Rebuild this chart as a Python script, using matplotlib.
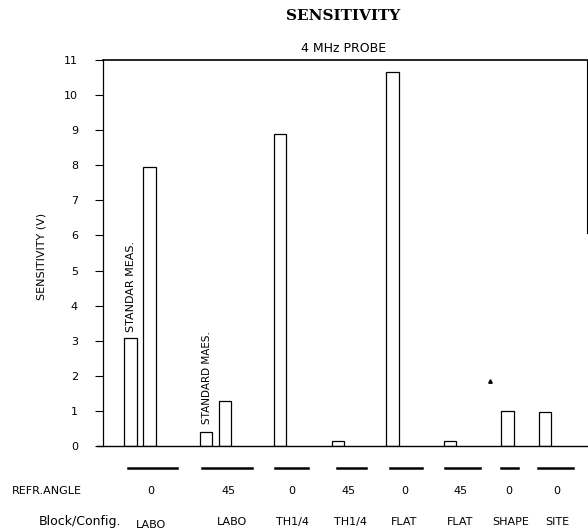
import numpy as np
import matplotlib.pyplot as plt
from matplotlib.transforms import blended_transform_factory

# data
configs = ['LABO', 'LABO', 'TH1/4', 'TH1/4', 'FLAT', 'FLAT', 'SHAPE', 'SITE']
angles = ['0', '45', '0', '45', '0', '45', '0', '0']
# sensitivity in V, one list per configuration (LABO has two measurements)
sens = [[3.07, 7.95], [0.40, 1.28], [8.90], [0.13], [10.65], [0.15], [1.00], [0.96]]

# layout (x in pixel-like units of the original sheet)
bar_x = [[130.5, 149.5], [206, 225], [280], [338], [392.5], [450], [507.5], [545]]
angle_x = [151, 229, 292, 348, 405, 460, 509, 557]
config_x = [151, 232, 293, 350, 404, 460, 511, 557]
underline = [(128, 177), (202, 252), (275, 308), (337, 366), (390, 422), (445, 480), (501, 518), (538, 573)]
bar_w = 12.5

W, H = 588, 529
fig = plt.figure(figsize=(W / 100, H / 100), dpi=100)
ax = fig.add_axes([103 / W, 1 - 446 / H, 485 / W, 386 / H])

for xs, vals in zip(bar_x, sens):
    ax.bar(xs, vals, width=bar_w, color='white', edgecolor='black', linewidth=0.9)

ax.set_xlim(103, 588)
ax.set_ylim(0, 11)
ax.set_yticks(range(0, 12))
ax.set_xticks([])
ax.tick_params(axis='y', direction='out', length=6, width=0.8, pad=12, labelsize=8)
for s in ['bottom', 'right']:
    ax.spines[s].set_visible(False)
ax.spines['left'].set_linewidth(0.9)
ax.spines['top'].set_linewidth(1.2)

# baseline and partial right edge like the original sheet
ax.plot([97, 588], [0, 0], color='black', lw=1.0, clip_on=False)
ax.plot([587, 587], [6.07, 11], color='black', lw=0.8, clip_on=False)

fig.text(42 / W, 1 - 256 / H, 'SENSITIVITY (V)', rotation=90, ha='center', va='center', fontsize=8)

ax.text(130.5, 3.25, 'STANDAR MEAS.', rotation=90, ha='center', va='bottom', fontsize=8)
ax.text(207, 0.63, 'STANDARD MAES.', rotation=90, ha='center', va='bottom', fontsize=7.5)
ax.plot([490], [1.85], marker='^', color='black', markersize=2.5)

tr = blended_transform_factory(ax.transData, fig.transFigure)
for (x0, x1) in underline:
    ax.plot([x0, x1], [1 - 468 / H, 1 - 468 / H], color='black', lw=1.8, transform=tr, clip_on=False)
for x, a in zip(angle_x, angles):
    ax.text(x, 1 - 491 / H, a, transform=tr, ha='center', va='center', fontsize=8)
for i, (x, c) in enumerate(zip(config_x, configs)):
    yy = 525 if i == 0 else 522
    ax.text(x, 1 - yy / H, c, transform=tr, ha='center', va='center', fontsize=8)

fig.text(47 / W, 1 - 491 / H, 'REFR.ANGLE', ha='center', va='center', fontsize=8)
fig.text(80 / W, 1 - 522 / H, 'Block/Config.', ha='center', va='center', fontsize=9)

fig.text(343 / W, 1 - 16 / H, 'SENSITIVITY', ha='center', va='center', fontsize=11,
         family='DejaVu Serif', weight='bold')
fig.text(344 / W, 1 - 49 / H, '4 MHz PROBE', ha='center', va='center', fontsize=9)

plt.savefig('out.png', dpi=100)
